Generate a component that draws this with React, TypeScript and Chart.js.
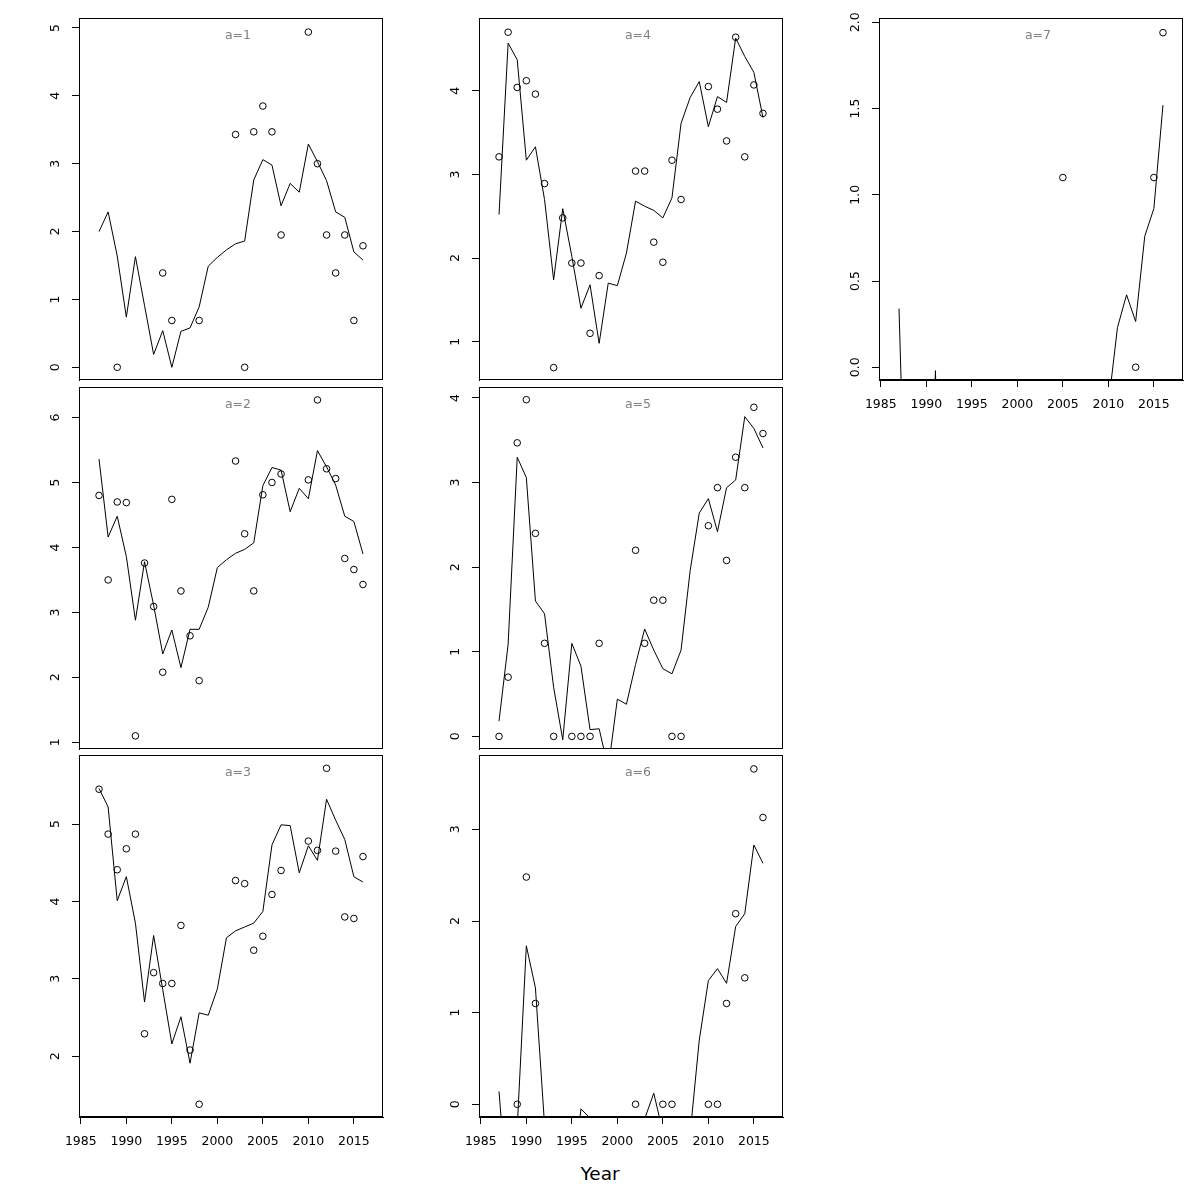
import React, { useEffect, useRef } from "react";
import { Chart, registerables } from "chart.js";

Chart.register(...registerables);

const years = [1987, 1988, 1989, 1990, 1991, 1992, 1993, 1994, 1995, 1996, 1997, 1998, 1999, 2000, 2001, 2002, 2003, 2004, 2005, 2006, 2007, 2008, 2009, 2010, 2011, 2012, 2013, 2014, 2015, 2016];
const xTicks = [1985, 1990, 1995, 2000, 2005, 2010, 2015];

const a1Obs = [null, null, 0, null, null, null, null, 1.39, 0.69, null, null, 0.69, null, null, null, 3.43, 0, 3.47, 3.85, 3.47, 1.95, null, null, 4.94, 3.0, 1.95, 1.39, 1.95, 0.69, 1.79];
const a1Fit = [2.0, 2.29, 1.64, 0.74, 1.63, 0.91, 0.19, 0.54, 0.0, 0.53, 0.58, 0.89, 1.49, 1.62, 1.73, 1.82, 1.86, 2.76, 3.06, 2.98, 2.38, 2.71, 2.58, 3.29, 3.03, 2.75, 2.29, 2.21, 1.7, 1.58];

const a2Obs = [4.8, 3.5, 4.7, 4.69, 1.1, 3.76, 3.09, 2.08, 4.74, 3.33, 2.64, 1.95, null, null, null, 5.33, 4.21, 3.33, 4.81, 5.0, 5.13, null, null, 5.04, 6.27, 5.21, 5.06, 3.83, 3.66, 3.43];
const a2Fit = [5.36, 4.16, 4.48, 3.86, 2.88, 3.78, 3.11, 2.36, 2.73, 2.15, 2.74, 2.74, 3.08, 3.69, 3.81, 3.91, 3.97, 4.07, 4.95, 5.23, 5.19, 4.55, 4.91, 4.75, 5.49, 5.24, 4.96, 4.48, 4.4, 3.9];

const a3Obs = [5.45, 4.87, 4.41, 4.68, 4.87, 2.29, 3.08, 2.94, 2.94, 3.69, 2.08, 1.38, null, null, null, 4.27, 4.23, 3.37, 3.55, 4.09, 4.4, null, null, 4.78, 4.66, 5.72, 4.65, 3.8, 3.78, 4.58];
const a3Fit = [5.46, 5.22, 4.01, 4.32, 3.72, 2.7, 3.56, 2.86, 2.16, 2.51, 1.91, 2.56, 2.53, 2.87, 3.53, 3.62, 3.67, 3.72, 3.87, 4.73, 4.99, 4.98, 4.37, 4.72, 4.53, 5.32, 5.05, 4.8, 4.32, 4.25];

const a4Obs = [3.21, 4.7, 4.04, 4.12, 3.96, 2.89, 0.69, 2.48, 1.94, 1.94, 1.1, 1.79, null, null, null, 3.04, 3.04, 2.19, 1.95, 3.17, 2.7, null, null, 4.05, 3.78, 3.4, 4.64, 3.21, 4.07, 3.73];
const a4Fit = [2.52, 4.57, 4.37, 3.17, 3.33, 2.7, 1.74, 2.59, 2.02, 1.4, 1.68, 0.98, 1.7, 1.67, 2.06, 2.68, 2.62, 2.57, 2.48, 2.72, 3.61, 3.92, 4.11, 3.57, 3.93, 3.86, 4.63, 4.41, 4.22, 3.68];

const a5Obs = [0, 0.7, 3.47, 3.98, 2.4, 1.1, 0, null, 0, 0, 0, 1.1, null, null, null, 2.2, 1.1, 1.61, 1.61, 0, 0, null, null, 2.49, 2.94, 2.08, 3.3, 2.94, 3.89, 3.58];
const a5Fit = [0.18, 1.09, 3.3, 3.06, 1.6, 1.45, 0.58, -0.04, 1.1, 0.83, 0.08, 0.09, -0.38, 0.44, 0.38, 0.85, 1.27, 1.02, 0.8, 0.74, 1.02, 1.96, 2.64, 2.81, 2.42, 2.94, 3.03, 3.78, 3.64, 3.41];

const a6Obs = [null, null, 0, 2.48, 1.1, null, null, null, null, null, null, null, null, null, null, 0, null, null, 0, 0, null, null, null, 0, 0, 1.1, 2.08, 1.38, 3.66, 3.13];
const a6Fit = [0.14, -1.13, -0.25, 1.73, 1.27, -0.22, -1.0, -1.0, -1.0, -0.05, -0.15, -1.0, -1.0, -1.0, -1.0, -1.0, -0.16, 0.12, -0.3, -1.0, -1.0, -0.32, 0.7, 1.35, 1.48, 1.32, 1.94, 2.08, 2.83, 2.63];

const a7Obs = [null, null, null, null, null, null, null, null, null, null, null, null, null, null, null, null, null, null, 1.1, null, null, null, null, null, null, null, 0, null, 1.1, 1.94];
const a7Fit = [0.34, -1.5, -2.0, -2.0, -0.02, -2.0, -2.0, -2.0, -2.0, -2.0, -2.0, -2.0, -2.0, -2.0, -2.0, -2.0, -2.0, -2.0, -2.0, -2.0, -2.0, -2.0, -2.0, -0.22, 0.23, 0.42, 0.265, 0.76, 0.92, 1.52];

const intTicks1 = [0, 1, 2, 3, 4, 5];
const intTicks2 = [1, 2, 3, 4, 5, 6];
const intTicks3 = [2, 3, 4, 5];
const intTicks4 = [1, 2, 3, 4];
const intTicks5 = [0, 1, 2, 3, 4];
const intTicks6 = [0, 1, 2, 3];
const decTicks7 = [0, 0.5, 1, 1.5, 2];

const X_MIN = 1984.8;
const X_MAX = 2018.2;
const PW = 304;
const PH = 362;
const FONT = "DejaVu Sans";

type PanelDef = {
  label: string;
  left: number;
  top: number;
  yMin: number;
  yMax: number;
  yTicks: number[];
  decimals: number;
  showX: boolean;
  obs: (number | null)[];
  fit: number[];
  labelPad: number;
};

const panels: PanelDef[] = [
  { label: "a=1", left: 79, top: 18, yMin: -0.187, yMax: 5.147, yTicks: intTicks1, decimals: 0, showX: false, obs: a1Obs, fit: a1Fit, labelPad: 12 },
  { label: "a=2", left: 79, top: 387, yMin: 0.898, yMax: 6.469, yTicks: intTicks2, decimals: 0, showX: false, obs: a2Obs, fit: a2Fit, labelPad: 12 },
  { label: "a=3", left: 79, top: 755, yMin: 1.215, yMax: 5.892, yTicks: intTicks3, decimals: 0, showX: true, obs: a3Obs, fit: a3Fit, labelPad: 12 },
  { label: "a=4", left: 479, top: 18, yMin: 0.542, yMax: 4.87, yTicks: intTicks4, decimals: 0, showX: false, obs: a4Obs, fit: a4Fit, labelPad: 12 },
  { label: "a=5", left: 479, top: 387, yMin: -0.149, yMax: 4.13, yTicks: intTicks5, decimals: 0, showX: false, obs: a5Obs, fit: a5Fit, labelPad: 12 },
  { label: "a=6", left: 479, top: 755, yMin: -0.139, yMax: 3.812, yTicks: intTicks6, decimals: 0, showX: true, obs: a6Obs, fit: a6Fit, labelPad: 12 },
  { label: "a=7", left: 879, top: 18, yMin: -0.074, yMax: 2.025, yTicks: decTicks7, decimals: 1, showX: true, obs: a7Obs, fit: a7Fit, labelPad: 6.5 },
];

const PAD_L = 60;
const PAD_T = 18;
const PAD_R = 10;
const PAD_B_AXIS = 45;
const PAD_B_NONE = 10;

function Panel({ p }: { p: PanelDef }) {
  const ref = useRef<HTMLCanvasElement>(null);
  const padB = p.showX ? PAD_B_AXIS : PAD_B_NONE;
  const cw = PAD_L + PW + PAD_R;
  const ch = PAD_T + PH + padB;

  useEffect(() => {
    if (!ref.current) return;
    const fitData = years.map((x, i) => ({ x, y: p.fit[i] }));
    const obsData: { x: number; y: number }[] = [];
    years.forEach((x, i) => {
      const v = p.obs[i];
      if (v !== null && v !== undefined) obsData.push({ x, y: v });
    });

    const boxPlugin = {
      id: "boxAndLabel",
      afterDraw(chart: any) {
        const { ctx, chartArea } = chart;
        const { left, top, right, bottom } = chartArea;
        ctx.save();
        ctx.strokeStyle = "#000";
        ctx.lineWidth = 1;
        ctx.strokeRect(Math.round(left) + 0.5, Math.round(top) + 0.5, Math.round(right - left) - 1, Math.round(bottom - top) - 1);
        ctx.fillStyle = "#808080";
        ctx.font = `12.5px "${FONT}"`;
        ctx.textAlign = "center";
        ctx.textBaseline = "middle";
        ctx.fillText(p.label, (left + right) / 2 + 7, top + 18);
        ctx.restore();
      },
    };

    const xScale: any = {
      type: "linear",
      min: X_MIN,
      max: X_MAX,
      display: p.showX,
      afterBuildTicks: (s: any) => {
        s.ticks = xTicks.map((v) => ({ value: v }));
      },
      ticks: {
        autoSkip: false,
        maxRotation: 0,
        minRotation: 0,
        padding: 10,
        color: "#000",
        font: { family: FONT, size: 12.5 },
        callback: (v: any) => String(v),
      },
      grid: { display: true, drawOnChartArea: false, drawTicks: true, tickLength: 7, color: "#000", lineWidth: 1 },
      border: { display: true, color: "#000", width: 1 },
    };
    xScale.afterFit = (s: any) => {
      s.paddingLeft = 0;
      s.paddingRight = 0;
      s.paddingTop = 0;
      s.paddingBottom = 0;
      if (p.showX) s.height = PAD_B_AXIS;
    };

    const chart = new Chart(ref.current, {
      type: "scatter",
      data: {
        datasets: [
          {
            data: fitData,
            showLine: true,
            borderColor: "#000",
            borderWidth: 1,
            pointRadius: 0,
            pointHoverRadius: 0,
            tension: 0,
            clip: 0,
          } as any,
          {
            data: obsData,
            showLine: false,
            pointRadius: 3.3,
            pointHoverRadius: 3.3,
            pointStyle: "circle",
            borderColor: "#000",
            backgroundColor: "rgba(0,0,0,0)",
            borderWidth: 1,
          } as any,
        ],
      },
      options: {
        animation: false,
        responsive: false,
        devicePixelRatio: 1,
        events: [],
        layout: { padding: { left: 0, top: PAD_T, right: PAD_R, bottom: p.showX ? 0 : PAD_B_NONE } },
        plugins: { legend: { display: false }, tooltip: { enabled: false } },
        scales: {
          x: xScale,
          y: {
            type: "linear",
            min: p.yMin,
            max: p.yMax,
            afterBuildTicks: (s: any) => {
              s.ticks = p.yTicks.map((v) => ({ value: v }));
            },
            afterFit: (s: any) => {
              s.width = PAD_L;
              s.paddingTop = 0;
              s.paddingBottom = 0;
              s.paddingLeft = 0;
              s.paddingRight = 0;
            },
            ticks: {
              autoSkip: false,
              minRotation: 90,
              maxRotation: 90,
              crossAlign: "center",
              padding: p.labelPad,
              color: "#000",
              font: { family: FONT, size: 12.5 },
              callback: (v: any) => Number(v).toFixed(p.decimals),
            },
            grid: { display: true, drawOnChartArea: false, drawTicks: true, tickLength: 7, color: "#000", lineWidth: 1 },
            border: { display: true, color: "#000", width: 1 },
          } as any,
        },
      },
      plugins: [boxPlugin],
    });
    return () => chart.destroy();
  }, []);

  return (
    <canvas
      ref={ref}
      width={cw}
      height={ch}
      style={{ position: "absolute", left: p.left - PAD_L, top: p.top - PAD_T, width: cw, height: ch }}
    />
  );
}

export default function App() {
  return (
    <div style={{ position: "absolute", left: 0, top: 0, width: 1200, height: 1200, background: "#fff", overflow: "hidden" }}>
      {panels.map((p) => (
        <Panel key={p.label} p={p} />
      ))}
      <div
        style={{
          position: "absolute",
          left: 0,
          top: 1163,
          width: 1200,
          textAlign: "center",
          fontFamily: FONT,
          fontSize: 18.5,
          lineHeight: "22px",
          color: "#000",
        }}
      >
        Year
      </div>
    </div>
  );
}
